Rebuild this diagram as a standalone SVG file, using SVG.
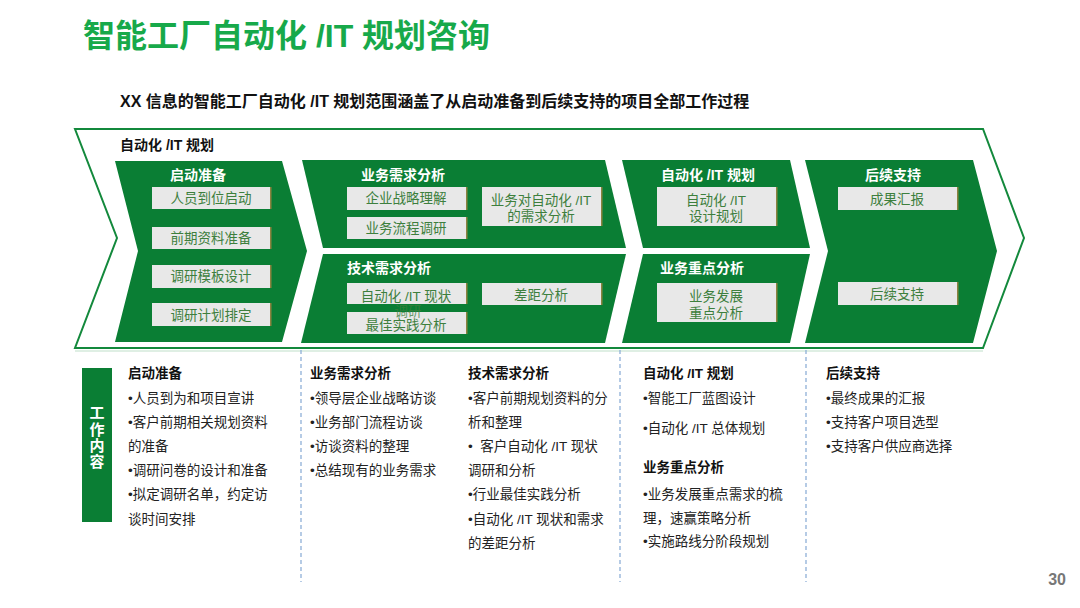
<svg xmlns="http://www.w3.org/2000/svg" width="1080" height="608" viewBox="0 0 1080 608">
<style>
text{font-family:"Liberation Sans","Noto Sans CJK SC",sans-serif}
.title{font-size:32px;font-weight:bold;fill:#17a94a}
.sub{font-size:16px;font-weight:bold;fill:#111}
.hdr{font-size:14px;font-weight:bold;fill:#111}
.chev{fill:#0a7e34}
.lab{font-size:14px;font-weight:bold;fill:#fff;text-anchor:middle}
.box{fill:#e8e8e8}
.shd{fill:#8c8240}
.bt{font-size:13.5px;fill:#3d7f3d;text-anchor:middle}
.ch{font-size:13.5px;font-weight:bold;fill:#111}
.ct{font-size:13.5px;fill:#222}
.div{stroke:#8fb0d8;stroke-width:1.3;stroke-dasharray:4 3;fill:none}
</style>
<text class="title" x="83" y="47">智能工厂自动化 /IT 规划咨询</text>
<text class="sub" x="120" y="107">XX 信息的智能工厂自动化 /IT 规划范围涵盖了从启动准备到后续支持的项目全部工作过程</text>

<g id="outer">
<line x1="75" y1="351" x2="983" y2="351" stroke="#d4eadb" stroke-width="1.5"/>
<polygon points="75,129 983,129 1024,238 983,348 75,348 117,238" fill="#fff" stroke="#13893c" stroke-width="2"/>
<text class="hdr" x="120" y="150">自动化 /IT 规划</text>
</g>

<g id="stage1">
<polygon class="chev" points="115,161 282,161 307,251 282,342 115,342 138,251"/>
<text class="lab" x="198" y="180">启动准备</text>
<rect class="shd" x="153.5" y="187" width="118" height="22"/><rect class="box" x="152" y="187" width="118" height="22"/>
<text class="bt" x="211" y="203">人员到位启动</text>
<rect class="shd" x="153.5" y="227" width="118" height="22"/><rect class="box" x="152" y="227" width="118" height="22"/>
<text class="bt" x="211" y="243">前期资料准备</text>
<rect class="shd" x="153.5" y="265" width="118" height="23"/><rect class="box" x="152" y="265" width="118" height="23"/>
<text class="bt" x="211" y="281">调研模板设计</text>
<rect class="shd" x="153.5" y="303" width="118" height="23"/><rect class="box" x="152" y="303" width="118" height="23"/>
<text class="bt" x="211" y="320">调研计划排定</text>
</g>

<g id="stage2a">
<polygon class="chev" points="302,160 605,160 626,248 323,248"/>
<text class="lab" x="403" y="180">业务需求分析</text>
<rect class="shd" x="348.5" y="187" width="119" height="23"/><rect class="box" x="347" y="187" width="119" height="23"/>
<text class="bt" x="406" y="203">企业战略理解</text>
<rect class="shd" x="348.5" y="217" width="119" height="22"/><rect class="box" x="347" y="217" width="119" height="22"/>
<text class="bt" x="406" y="233">业务流程调研</text>
<rect class="shd" x="483.5" y="187" width="119" height="39"/><rect class="box" x="482" y="187" width="119" height="39"/>
<text class="bt" x="541" y="205">业务对自动化 /IT</text>
<text class="bt" x="541" y="221">的需求分析</text>
</g>

<g id="stage2b">
<polygon class="chev" points="323,254 626,254 605,343 301,343"/>
<text class="lab" x="389" y="273">技术需求分析</text>
<rect class="shd" x="348.5" y="283" width="119" height="21"/><rect class="box" x="347" y="283" width="119" height="21"/>
<text class="bt" x="406" y="301">自动化 /IT 现状</text>
<rect class="shd" x="348.5" y="312" width="119" height="22"/><rect class="box" x="347" y="312" width="119" height="22"/>
<text class="bt" x="408" y="316" opacity="0.75">调研</text>
<text class="bt" x="406" y="330">最佳实践分析</text>
<rect class="shd" x="483.5" y="283" width="119" height="22"/><rect class="box" x="482" y="283" width="119" height="22"/>
<text class="bt" x="541" y="300">差距分析</text>
</g>

<g id="stage3a">
<polygon class="chev" points="622,160 790,160 810,248 643,248"/>
<text class="lab" x="708" y="180">自动化 /IT 规划</text>
<rect class="shd" x="658.5" y="187" width="119" height="39"/><rect class="box" x="657" y="187" width="119" height="39"/>
<text class="bt" x="716" y="205">自动化 /IT</text>
<text class="bt" x="716" y="221">设计规划</text>
</g>

<g id="stage3b">
<polygon class="chev" points="643,254 810,254 790,343 622,343"/>
<text class="lab" x="702" y="273">业务重点分析</text>
<rect class="shd" x="658.5" y="283" width="119" height="39"/><rect class="box" x="657" y="283" width="119" height="39"/>
<text class="bt" x="716" y="301">业务发展</text>
<text class="bt" x="716" y="318">重点分析</text>
</g>

<g id="stage4">
<polygon class="chev" points="805,160 973,160 997,251 973,343 805,343 828,251"/>
<text class="lab" x="893" y="180">后续支持</text>
<rect class="shd" x="839.5" y="187" width="119" height="23"/><rect class="box" x="838" y="187" width="119" height="23"/>
<text class="bt" x="897" y="204">成果汇报</text>
<rect class="shd" x="839.5" y="282" width="119" height="23"/><rect class="box" x="838" y="282" width="119" height="23"/>
<text class="bt" x="897" y="299">后续支持</text>
</g>

<g id="dividers">
<line class="div" x1="301" y1="350" x2="301" y2="582"/>
<line class="div" x1="620" y1="350" x2="620" y2="582"/>
<line class="div" x1="806" y1="350" x2="806" y2="582"/>
</g>

<g id="label">
<rect x="82" y="368" width="30" height="154" fill="#0a7e34"/>
<text x="97" y="418" font-size="15" font-weight="bold" fill="#fff" text-anchor="middle">工</text>
<text x="97" y="435" font-size="15" font-weight="bold" fill="#fff" text-anchor="middle">作</text>
<text x="97" y="451" font-size="15" font-weight="bold" fill="#fff" text-anchor="middle">内</text>
<text x="97" y="467" font-size="15" font-weight="bold" fill="#fff" text-anchor="middle">容</text>
</g>

<g id="col1">
<text class="ch" x="128" y="378">启动准备</text>
<text class="ct" x="128" y="403">•人员到为和项目宣讲</text>
<text class="ct" x="128" y="427">•客户前期相关规划资料</text>
<text class="ct" x="128" y="451">的准备</text>
<text class="ct" x="128" y="475">•调研问卷的设计和准备</text>
<text class="ct" x="128" y="499">•拟定调研名单，约定访</text>
<text class="ct" x="128" y="524">谈时间安排</text>
</g>

<g id="col2">
<text class="ch" x="310" y="378">业务需求分析</text>
<text class="ct" x="310" y="403">•领导层企业战略访谈</text>
<text class="ct" x="310" y="427">•业务部门流程访谈</text>
<text class="ct" x="310" y="451">•访谈资料的整理</text>
<text class="ct" x="310" y="475">•总结现有的业务需求</text>
</g>

<g id="col3">
<text class="ch" x="468" y="378">技术需求分析</text>
<text class="ct" x="468" y="403">•客户前期规划资料的分</text>
<text class="ct" x="468" y="427">析和整理</text>
<text class="ct" x="468" y="451" xml:space="preserve">•  客户自动化 /IT 现状</text>
<text class="ct" x="468" y="475">调研和分析</text>
<text class="ct" x="468" y="499">•行业最佳实践分析</text>
<text class="ct" x="468" y="524">•自动化 /IT 现状和需求</text>
<text class="ct" x="468" y="548">的差距分析</text>
</g>

<g id="col4">
<text class="ch" x="643" y="378">自动化 /IT 规划</text>
<text class="ct" x="643" y="403">•智能工厂蓝图设计</text>
<text class="ct" x="643" y="433">•自动化 /IT 总体规划</text>
<text class="ch" x="643" y="472">业务重点分析</text>
<text class="ct" x="643" y="499">•业务发展重点需求的梳</text>
<text class="ct" x="643" y="523">理，速赢策略分析</text>
<text class="ct" x="643" y="546">•实施路线分阶段规划</text>
</g>

<g id="col5">
<text class="ch" x="826" y="378">后续支持</text>
<text class="ct" x="826" y="403">•最终成果的汇报</text>
<text class="ct" x="826" y="427">•支持客户项目选型</text>
<text class="ct" x="826" y="451">•支持客户供应商选择</text>
</g>

<text x="1066" y="585" font-size="16" font-weight="bold" fill="#777" text-anchor="end">30</text>
</svg>
